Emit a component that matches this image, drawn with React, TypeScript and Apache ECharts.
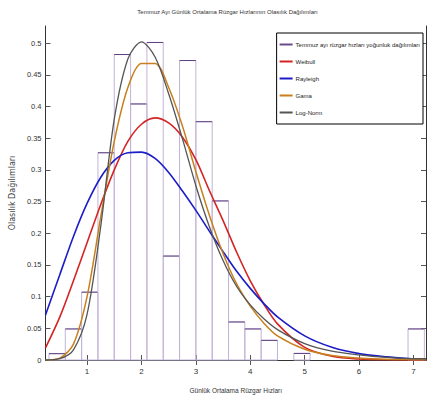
import React, { useEffect, useRef } from "react";
import * as echarts from "echarts";

// Histogram bins (wind speed, m/s) and density heights
const binStart = [0.3, 0.6, 0.9, 1.2, 1.5, 1.8, 2.1, 2.4, 2.7, 3.0, 3.3, 3.6, 3.9, 4.2, 4.8, 6.9];
const binEnd = [0.6, 0.9, 1.2, 1.5, 1.8, 2.1, 2.4, 2.7, 3.0, 3.3, 3.6, 3.9, 4.2, 4.5, 5.1, 7.2];
const binHeight = [0.01, 0.049, 0.107, 0.327, 0.482, 0.404, 0.501, 0.164, 0.4725, 0.376, 0.251, 0.06, 0.049, 0.031, 0.0104, 0.049];

// Fitted curves
const xs = [0.236, 0.5, 0.75, 1.0, 1.25, 1.5, 1.75, 2.0, 2.25, 2.5, 2.75, 3.0, 3.25, 3.5, 3.75, 4.0, 4.25, 4.5, 5.0, 5.5, 6.0, 6.5, 7.0, 7.23];
const weibull = [0.019, 0.068, 0.125, 0.185, 0.245, 0.3, 0.345, 0.372, 0.382, 0.374, 0.352, 0.316, 0.267, 0.22, 0.17, 0.125, 0.088, 0.057, 0.02, 0.006, 0.0015, 0.0003, 0.0001, 0];
const rayleigh = [0.071, 0.135, 0.195, 0.247, 0.288, 0.315, 0.327, 0.328, 0.318, 0.296, 0.267, 0.236, 0.203, 0.171, 0.14, 0.113, 0.089, 0.068, 0.038, 0.02, 0.01, 0.005, 0.002, 0.001];
const gama = [0, 0.003, 0.025, 0.1, 0.225, 0.345, 0.43, 0.468, 0.468, 0.43, 0.37, 0.297, 0.228, 0.168, 0.12, 0.085, 0.058, 0.038, 0.017, 0.007, 0.003, 0.001, 0.0005, 0.0003];
const lognorm = [0, 0.002, 0.016, 0.072, 0.21, 0.38, 0.475, 0.502, 0.478, 0.42, 0.35, 0.275, 0.21, 0.157, 0.116, 0.087, 0.065, 0.048, 0.026, 0.014, 0.008, 0.004, 0.002, 0.002];

const xTicks = [1, 2, 3, 4, 5, 6, 7];
const yTicks = [0, 0.05, 0.1, 0.15, 0.2, 0.25, 0.3, 0.35, 0.4, 0.45, 0.5];

const names = [
  "Temmuz ayı rüzgar hızları yoğunluk dağılımları",
  "Weibull",
  "Rayleigh",
  "Gama",
  "Log-Norm",
];

const FONT = '"Liberation Sans", Arial, sans-serif';
const X_MIN = 0.236;
const X_MAX = 7.23;
const Y_MAX = 0.527;

export default function App() {
  const ref = useRef<HTMLDivElement>(null);
  useEffect(() => {
    if (!ref.current) return;
    const chart = echarts.init(ref.current, null, { renderer: "svg" });
    const histData = binStart.map((s, i) => [s, binEnd[i], binHeight[i]]);
    const pairs = (ys: number[]) => xs.map((x, i) => [x, ys[i]]);
    const axisLineStyle = { color: "#333", width: 1 };
    const lineSeries = (name: string, ys: number[], color: string, w: number) => ({
      name,
      type: "line",
      data: pairs(ys),
      smooth: 0.3,
      showSymbol: false,
      symbol: "none",
      lineStyle: { color, width: w },
      itemStyle: { color },
      z: 3,
    });
    chart.setOption({
      animation: false,
      backgroundColor: "#fff",
      title: {
        text: "Temmuz Ayı Günlük Ortalama Rüzgar Hızlarının Olasılık Dağılımları",
        left: 227.5,
        textAlign: "center",
        top: 9,
        padding: 0,
        textStyle: { fontSize: 6, fontWeight: "normal", color: "#333", fontFamily: FONT },
      },
      legend: {
        orient: "vertical",
        right: 4,
        top: 33,
        padding: [7, 3, 7, 3],
        itemWidth: 13,
        itemHeight: 2,
        itemGap: 8,
        icon: "rect",
        backgroundColor: "#fff",
        borderColor: "#000",
        borderWidth: 1,
        data: names,
        textStyle: { fontSize: 6, lineHeight: 9, color: "#222", fontFamily: FONT, padding: [0, 0, 0, -2] },
      },
      grid: { left: 29, top: 26, right: 1, bottom: 33.3, containLabel: false },
      xAxis: [
        {
          type: "value",
          min: X_MIN,
          max: X_MAX,
          position: "bottom",
          name: "Günlük Ortalama Rüzgar Hızları",
          nameLocation: "middle",
          nameGap: 27,
          nameTextStyle: { fontSize: 6.5, color: "#333", fontFamily: FONT },
          axisLine: { show: true, lineStyle: axisLineStyle },
          axisTick: { show: true, inside: true, length: 5, customValues: xTicks, lineStyle: { color: "#555" } },
          axisLabel: { customValues: xTicks, fontSize: 8, color: "#333", fontFamily: FONT, margin: 7 },
          splitLine: { show: false },
        },
        {
          type: "value",
          min: X_MIN,
          max: X_MAX,
          position: "top",
          axisLine: { show: true, lineStyle: axisLineStyle },
          axisTick: { show: true, inside: true, length: 5, customValues: xTicks, lineStyle: { color: "#555" } },
          axisLabel: { show: false },
          splitLine: { show: false },
        },
      ],
      yAxis: [
        {
          type: "value",
          min: 0,
          max: Y_MAX,
          position: "left",
          name: "Olasılık Dağılımları",
          nameLocation: "middle",
          nameGap: 17,
          nameTextStyle: { fontSize: 8, color: "#444", fontFamily: "DejaVu Sans, sans-serif" },
          axisLine: { show: true, lineStyle: axisLineStyle },
          axisTick: { show: true, inside: true, length: 5, customValues: yTicks, lineStyle: { color: "#555" } },
          axisLabel: {
            customValues: yTicks,
            fontSize: 7.5,
            color: "#333",
            fontFamily: FONT,
            margin: 4,
            formatter: (v: number) => String(Math.round(v * 100) / 100),
          },
          splitLine: { show: false },
        },
        {
          type: "value",
          min: 0,
          max: Y_MAX,
          position: "right",
          axisLine: { show: true, lineStyle: axisLineStyle },
          axisTick: { show: true, inside: true, length: 5, customValues: yTicks, lineStyle: { color: "#555" } },
          axisLabel: { show: false },
          splitLine: { show: false },
        },
      ],
      series: [
        {
          name: names[0],
          type: "custom",
          data: histData,
          encode: { x: [0, 1], y: 2 },
          itemStyle: { color: "#6a4a8c" },
          z: 1,
          renderItem: (params: any, api: any) => {
            const p0 = api.coord([api.value(0), api.value(2)]);
            const p1 = api.coord([api.value(1), 0]);
            return {
              type: "group",
              children: [
                {
                  type: "rect",
                  shape: { x: p0[0], y: p0[1], width: p1[0] - p0[0], height: p1[1] - p0[1] },
                  style: { fill: "none", stroke: "#c2b3d8", lineWidth: 1 },
                },
                {
                  type: "line",
                  shape: { x1: p0[0], y1: p0[1], x2: p1[0], y2: p0[1] },
                  style: { stroke: "#5e3f80", lineWidth: 1 },
                },
              ],
            };
          },
        },
        lineSeries(names[1], weibull, "#d42424", 1.6),
        lineSeries(names[2], rayleigh, "#1c1cc8", 1.6),
        lineSeries(names[3], gama, "#c8801e", 1.5),
        lineSeries(names[4], lognorm, "#555555", 1.3),
      ],
    });
    return () => chart.dispose();
  }, []);
  return (
    <div
      ref={ref}
      style={{ position: "fixed", left: 0, top: 0, width: 427, height: 399, background: "#fff" }}
    />
  );
}
